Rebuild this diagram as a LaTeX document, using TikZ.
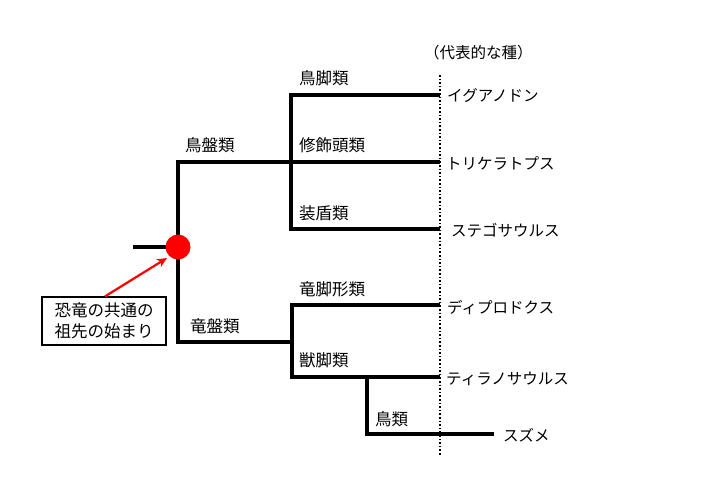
\documentclass[tikz,border=0pt]{standalone}
\usepackage{fontspec}
\setmainfont{Noto Sans CJK JP}
\usetikzlibrary{arrows.meta}
\begin{document}
\begin{tikzpicture}[x=1pt,y=-1pt,
  br/.style={line width=4pt},
  lbl/.style={anchor=west,font=\fontsize{16.5}{18}\selectfont,inner sep=0pt},
  sp/.style={anchor=west,font=\fontsize{15.5}{18}\selectfont,inner sep=0pt}]
\useasboundingbox (0,0) rectangle (720,490);
% coordinates
\coordinate (s0) at (133,247);
\coordinate (r) at (178,247);
\coordinate (rt) at (178,162);
\coordinate (rb) at (178,342);
\coordinate (o) at (291,162);
\coordinate (ot) at (291,95);
\coordinate (ob) at (291,229);
\coordinate (sa) at (292,342);
\coordinate (sat) at (292,305);
\coordinate (sab) at (292,377);
\coordinate (th) at (367,377);
\coordinate (thb) at (367,434);
\coordinate (e1) at (440,95);
\coordinate (e2) at (440,162);
\coordinate (e3) at (440,229);
\coordinate (e4) at (440,305);
\coordinate (e5) at (440,377);
\coordinate (e6) at (494,434);
\coordinate (dt) at (440,75);
\coordinate (db) at (440,455);
% dotted line
\draw[line width=1.6pt,dotted] (dt) -- (db);
% branches
\draw[br] (s0) -- (r);
\draw[br,line cap=rect] (rt) -- (rb);
\draw[br] (rt) -- (o);
\draw[br,line cap=rect] (ot) -- (ob);
\draw[br] (ot) -- (e1);
\draw[br] (o) -- (e2);
\draw[br] (ob) -- (e3);
\draw[br] (rb) -- (sa);
\draw[br,line cap=rect] (sat) -- (sab);
\draw[br] (sat) -- (e4);
\draw[br] (sab) -- (e5);
\draw[br,line cap=rect] (th) -- (thb);
\draw[br] (thb) -- (e6);
% root dot
\node[circle,fill=red,minimum size=25pt,inner sep=0pt] (dot) at (r) {};
% labels
\node[lbl] (l1) at (299,78) {鳥脚類};
\node[lbl] (l2) at (299,145) {修飾頭類};
\node[lbl] (l3) at (299,213) {装盾類};
\node[lbl] (l4) at (299,289) {竜脚形類};
\node[lbl] (l5) at (299,360) {獣脚類};
\node[lbl] (l6) at (375,419) {鳥類};
\node[lbl] (l7) at (185,145) {鳥盤類};
\node[lbl] (l8) at (190,326) {竜盤類};
% species
\node[sp] (t0) at (424,53) {（代表的な種）};
\node[sp] (p1) at (447,96) {イグアノドン};
\node[sp] (p2) at (446,163) {トリケラトプス};
\node[sp] (p3) at (451,230) {ステゴサウルス};
\node[sp] (p4) at (447,307) {ディプロドクス};
\node[sp] (p5) at (446,379) {ティラノサウルス};
\node[sp] (p6) at (503,435) {スズメ};
% box
\node[draw,line width=1.2pt,align=left,font=\fontsize{16.5}{21}\selectfont,
  minimum width=124pt,minimum height=48pt,inner sep=3pt] (box) at (104,321)
  {恐竜の共通の\\祖先の始まり};
\draw[red,line width=2.2pt,-{Stealth[length=10pt,width=9pt]}] (box.north) ++(1,0) coordinate (a0) -- (167,258);
\end{tikzpicture}
\end{document}
